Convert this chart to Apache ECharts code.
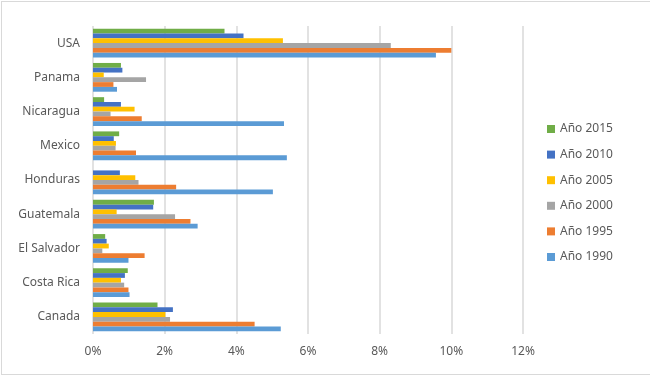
<!DOCTYPE html>
<html>
<head>
<meta charset="utf-8">
<script src="https://cdn.jsdelivr.net/npm/echarts@6/dist/echarts.min.js"></script>
<style>
html,body{margin:0;padding:0;background:#fff;}
#chart{width:648px;height:372px;border:1px solid #d9d9d9;margin:1px;}
</style>
</head>
<body>
<div id="chart"></div>
<script>
var paises=['Canada','Costa Rica','El Salvador','Guatemala','Honduras','Mexico','Nicaragua','Panama','USA'];
var anios=['Año 1990','Año 1995','Año 2000','Año 2005','Año 2010','Año 2015'];
var colores=['#5B9BD5','#ED7D31','#A5A5A5','#FFC000','#4472C4','#70AD47'];
var xTicks=['0%','2%','4%','6%','8%','10%','12%'];

var v1990=[5.24,1.02,0.99,2.92,5.02,5.41,5.33,0.67,9.57];
var v1995=[4.51,0.99,1.44,2.72,2.32,1.20,1.36,0.57,10.0];
var v2000=[2.15,0.87,0.26,2.29,1.27,0.63,0.49,1.48,8.31];
var v2005=[2.02,0.78,0.44,0.66,1.18,0.64,1.16,0.30,5.30];
var v2010=[2.23,0.89,0.38,1.68,0.75,0.58,0.78,0.82,4.20];
var v2015=[1.80,0.97,0.34,1.70,0,0.73,0.31,0.78,3.67];

var valores=[v1990,v1995,v2000,v2005,v2010,v2015];

// en barras horizontales la primera serie queda arriba, asi que van al reves
var series=[];
for(var i=anios.length-1;i>=0;i--){
    series.push({
        name:anios[i],
        type:'bar',
        data:valores[i],
        barGap:'0%',
        barCategoryGap:'16%',
        itemStyle:{color:colores[i]}
    })
}

var myChart=echarts.init(document.getElementById('chart'))
myChart.setOption({
    textStyle:{fontFamily:'Noto Sans'},
    grid:{left:91,right:127,top:24,bottom:40},
    legend:{
        orient:'vertical',
        left:540,
        top:116,
        itemWidth:8,
        itemHeight:8,
        itemGap:13.6,
        icon:'rect',
        data:anios.slice().reverse(),
        textStyle:{color:'#595959',fontSize:12}
    },
    xAxis:{
        type:'value',
        min:0,
        max:12,
        interval:2,
        axisLine:{show:false},
        axisTick:{show:false},
        splitLine:{lineStyle:{color:'#d9d9d9',width:1.5}},
        axisLabel:{
            color:'#595959',
            fontSize:12,
            margin:12,
            formatter:function(v){return xTicks[v/2]}
        }
    },
    yAxis:{
        type:'category',
        data:paises,
        axisLine:{show:false},
        axisTick:{show:false},
        axisLabel:{color:'#595959',fontSize:12,margin:13}
    },
    series:series
})
</script>
</body>
</html>
